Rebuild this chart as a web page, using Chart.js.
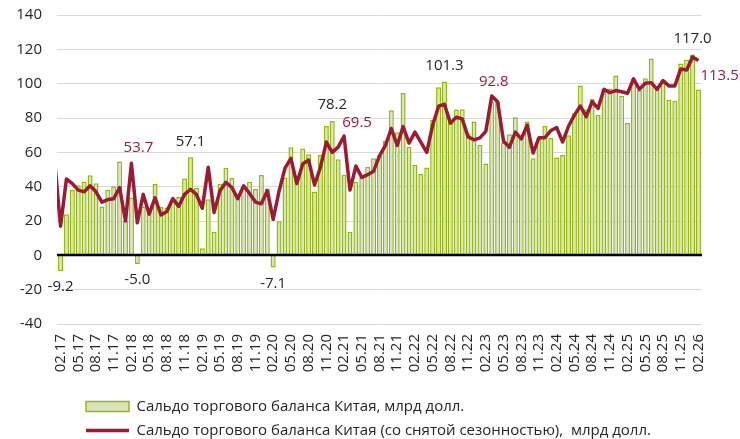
<!DOCTYPE html>
<html>
<head>
<meta charset="utf-8">
<script src="https://cdn.jsdelivr.net/npm/chart.js@4/dist/chart.umd.min.js"></script>
<style>
  html, body { margin: 0; padding: 0; background: #fff; }
  #wrap { width: 740px; height: 439px; }
</style>
</head>
<body>
<div id="wrap"><canvas id="c"></canvas></div>
<script>
// Monthly, Jan 2017 .. Feb 2026 (index 0 = 01.17)
const tickLabels = ['02.17','05.17','08.17','11.17','02.18','05.18','08.18','11.18','02.19','05.19','08.19','11.19',
  '02.20','05.20','08.20','11.20','02.21','05.21','08.21','11.21','02.22','05.22','08.22','11.22',
  '02.23','05.23','08.23','11.23','02.24','05.24','08.24','11.24','02.25','05.25','08.25','11.25','02.26'];

// Сальдо торгового баланса, млрд долл.
const balance = [
  51.3, -9.2, 24.0, 38.0, 40.8, 42.8, 46.7, 42.0, 28.5, 38.2, 40.2, 54.7,
  20.3, 33.7, -5.0, 28.4, 24.9, 41.6, 28.1, 27.9, 31.7, 34.0, 44.7, 57.1,
  39.2, 4.1, 32.6, 13.8, 41.7, 51.0, 45.1, 34.8, 39.7, 42.8, 38.7, 46.8,
  39.0, -7.1, 19.9, 45.3, 62.9, 46.4, 62.3, 58.9, 37.0, 58.4, 75.4, 78.2,
  56.0, 47.0, 13.8, 42.9, 45.5, 51.5, 56.6, 58.3, 66.8, 84.5, 71.7, 94.5,
  63.3, 52.6, 47.4, 51.1, 78.8, 97.9, 101.3, 78.5, 84.9, 85.1, 71.0, 78.0,
  64.3, 53.5, 89.5, 89.5, 65.8, 70.6, 80.4, 69.5, 77.9, 56.5, 68.3, 75.4,
  68.4, 57.0, 58.5, 70.0, 82.7, 99.0, 85.0, 91.0, 81.9, 96.5, 97.2, 104.7,
  93.0, 77.2, 102.8, 96.2, 103.1, 114.6, 97.6, 102.2, 90.6, 90.1, 111.8, 114.0,
  117.0, 96.6
];

// Сальдо со снятой сезонностью
const balanceSA = [
  55.0, 17.0, 44.5, 41.8, 38.0, 37.0, 40.5, 37.0, 31.0, 32.5, 33.0, 39.5,
  20.0, 53.7, 19.0, 35.5, 24.0, 33.5, 23.5, 25.5, 33.0, 28.5, 35.5, 38.5,
  35.5, 27.4, 51.3, 25.0, 37.7, 42.5, 39.5, 33.0, 40.5, 36.0, 31.0, 30.0,
  37.7, 21.0, 37.5, 50.8, 56.5, 41.8, 53.2, 55.5, 41.0, 51.3, 66.0, 60.0,
  63.0, 69.5, 38.0, 52.0, 45.4, 47.0, 49.0, 57.9, 64.0, 73.9, 64.0, 75.0,
  65.4, 71.8, 66.0, 60.0, 75.8, 86.9, 88.0, 77.0, 80.5, 79.5, 69.0, 67.3,
  68.4, 72.2, 92.8, 89.4, 66.5, 63.0, 71.8, 67.8, 75.8, 59.6, 68.5, 68.5,
  72.7, 74.4, 66.0, 75.2, 81.7, 87.0, 80.8, 89.5, 85.6, 96.7, 94.8, 96.0,
  95.3, 94.4, 102.8, 96.7, 100.2, 100.6, 96.7, 101.8, 98.7, 98.7, 108.6, 108.0,
  115.5, 113.5
];

const barLabelAt = [1, 14, 23, 37, 47, 66, 108];
const lineLabelAt = [13, 49, 74, 109];

const RED = '#9b1b34';
const TEXT = '#262626';
const FONT = { family: "'Open Sans', 'Noto Sans', sans-serif", size: 15 };

const monthIndex = t => (parseInt(t.slice(3), 10) - 17) * 12 + parseInt(t.slice(0, 2), 10) - 1;

/* ── label placement for the annotated points ── */
const lineLabelPos = {
    13: { dx: 7, dy: -15, align: 'center' },
    49: { dx: 13, dy: -13, align: 'center' },
    74: { dx: 2, dy: -14, align: 'center' },
    109: { dx: 2, dy: 15, align: 'left' }
};

const overlay = {
    id: 'overlay',
    afterLayout(chart) {
        // legend rows start under the plot, not at the canvas edge
        const lg = chart.legend;
        lg.left = 77;
        lg.top = 390;
        lg.bottom = lg.top + lg.height;
        lg.right = 740;
    },
    afterDatasetsDraw(chart) {
        const { ctx, chartArea: a, scales: { y } } = chart;
        const y0 = Math.round(y.getPixelForValue(0));
        ctx.save();
        ctx.strokeStyle = '#000';
        ctx.lineWidth = 2.5;
        ctx.beginPath();
        ctx.moveTo(a.left, y0);
        ctx.lineTo(a.right, y0);
        ctx.stroke();

        ctx.font = `${FONT.size}px ${FONT.family}`;
        ctx.textBaseline = 'middle';
        const bars = chart.getDatasetMeta(0).data;
        ctx.fillStyle = TEXT;
        ctx.textAlign = 'center';
        barLabelAt.forEach(i => {
            const el = bars[i];
            const v = balance[i];
            ctx.fillText(v.toFixed(1), el.x, v < 0 ? el.y + 16 : el.y - 16);
        });
        const pts = chart.getDatasetMeta(1).data;
        ctx.fillStyle = RED;
        lineLabelAt.forEach(i => {
            const el = pts[i];
            const p = lineLabelPos[i];
            ctx.textAlign = p.align;
            ctx.fillText(balanceSA[i].toFixed(1), el.x + p.dx, el.y + p.dy);
        });
        ctx.restore();
    }
};

new Chart(document.getElementById('c'), {
    data: {
        datasets: [
            {
                type: 'bar',
                label: 'Сальдо торгового баланса Китая, млрд долл.',
                data: balance.map((v, i) => ({ x: i, y: v })),
                backgroundColor: '#d7e4bd',
                borderColor: '#93b90c',
                borderWidth: 1.5,
                barPercentage: 0.85,
                categoryPercentage: 1,
                clip: 0,
                order: 1
            },
            {
                type: 'line',
                label: 'Сальдо торгового баланса Китая (со снятой сезонностью),  млрд долл.',
                data: balanceSA.map((v, i) => ({ x: i, y: v })),
                borderColor: RED,
                backgroundColor: RED,
                borderWidth: 3.5,
                borderJoinStyle: 'round',
                pointRadius: 0,
                tension: 0,
                clip: 0,
                order: 0
            }
        ]
    },
    options: {
        responsive: true,
        maintainAspectRatio: false,
        animation: false,
        layout: { padding: { left: 0, right: 38, top: 15, bottom: 0 } },
        plugins: {
            tooltip: { enabled: false },
            legend: {
                position: 'bottom',
                align: 'start',
                labels: {
                    font: FONT,
                    color: TEXT,
                    padding: 9,
                    usePointStyle: true,
                    pointStyleWidth: 43,
                    boxHeight: 10,
                    sort: (a, b) => a.datasetIndex - b.datasetIndex,
                    generateLabels: chart => Chart.defaults.plugins.legend.labels.generateLabels(chart).map(it => {
                        it.pointStyle = it.datasetIndex === 0 ? 'rect' : 'line';
                        it.lineWidth = it.datasetIndex === 0 ? 1.5 : 3.5;
                        return it;
                    })
                }
            }
        },
        scales: {
            x: {
                type: 'linear',
                min: 0.4,
                max: 109.6,
                offset: false,
                afterBuildTicks: s => { s.ticks = tickLabels.map(t => ({ value: monthIndex(t) })); },
                afterFit: s => { s.height = 57; s.paddingLeft = 0; s.paddingRight = 0; },
                ticks: {
                    autoSkip: false,
                    minRotation: 90,
                    maxRotation: 90,
                    padding: 10,
                    font: FONT,
                    color: TEXT,
                    callback: v => tickLabels.find(t => monthIndex(t) === v) || ''
                },
                grid: { display: false, drawTicks: false },
                border: { display: false }
            },
            y: {
                min: -40,
                max: 140,
                afterFit: s => { s.width = 57; s.paddingTop = 0; s.paddingBottom = 0; },
                ticks: { stepSize: 20, padding: 15, font: FONT, color: TEXT },
                grid: {
                    drawTicks: false,
                    color: c => c.tick.value === 0 ? 'rgba(0,0,0,0)' : '#d9d9d9'
                },
                border: { display: false }
            }
        }
    },
    plugins: [overlay]
});
</script>
</body>
</html>
